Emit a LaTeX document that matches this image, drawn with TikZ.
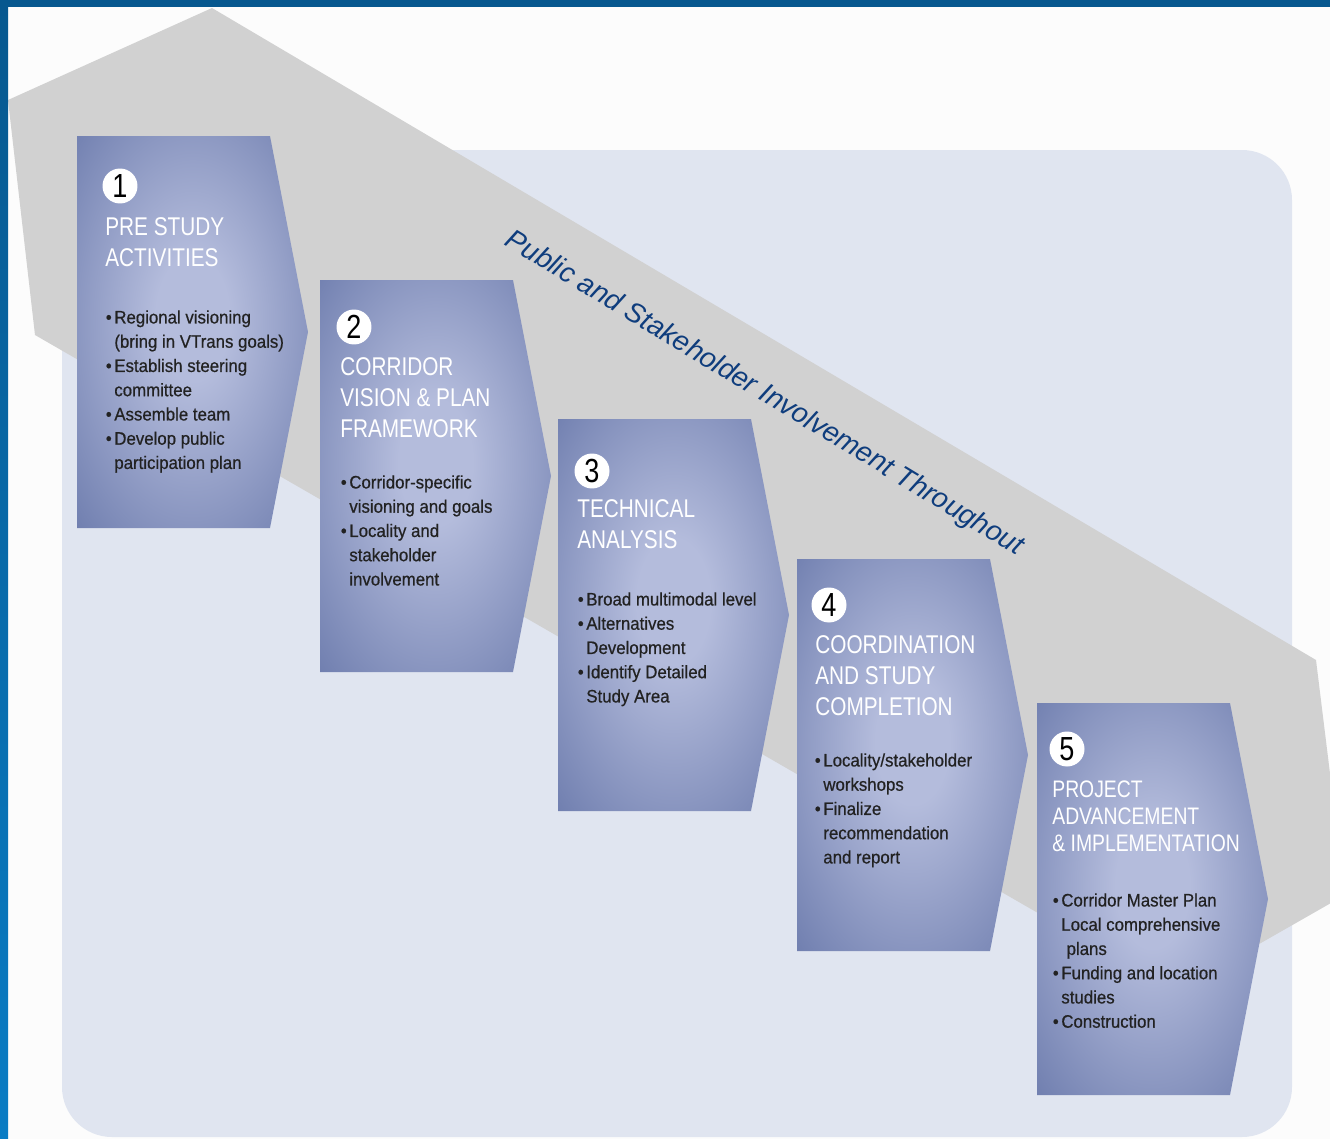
\documentclass[tikz,border=0pt]{standalone}
\usepackage{fontspec}
\setmainfont{Liberation Sans}[FakeStretch=0.93,FakeBold=0.6]
\newfontfamily\headfont{Liberation Sans}[FakeStretch=0.81]
\newfontfamily\bandfont{Liberation Sans}
\usepackage{xcolor}
\usepackage{tikz}
\usetikzlibrary{positioning,calc}
\definecolor{vtblue}{HTML}{07588F}
\definecolor{vtbluelt}{HTML}{0A7CC4}
\definecolor{bandgray}{HTML}{D1D1D1}
\definecolor{panelblue}{HTML}{E0E5F0}
\definecolor{boxedge}{RGB}{98,114,166}
\definecolor{boxmid}{RGB}{180,188,220}
\definecolor{titleblue}{HTML}{0F3D7D}
\definecolor{bullettext}{HTML}{222222}
\pgfdeclareradialshading{boxglow}{\pgfpoint{0bp}{2bp}}{%
  color(0bp)=(boxmid); color(8bp)=(boxmid); color(42bp)=(boxedge); color(60bp)=(boxedge)}
\newcommand{\stagept}{\llap{\textbullet\hspace{1.5pt}}}

\begin{document}
\begin{tikzpicture}[
    x=0.02cm,y=-0.02cm,
    stagetitle/.style = {anchor=north west, inner sep=0pt, align=left, text=white,
                         font=\headfont\fontsize{14.6}{17.6}\selectfont},
    stagelist/.style  = {anchor=north west, inner sep=0pt, align=left, text=bullettext,
                         font=\fontsize{10.3}{13.8}\selectfont},
    stagenum/.style   = {circle, fill=white, inner sep=0pt, minimum size=0.7cm,
                         font=\headfont\fontsize{19}{19}\selectfont},
    bandlabel/.style  = {text=titleblue, inner sep=0pt,
                         font=\bandfont\itshape\fontsize{16}{16}\selectfont},
  ]

  \tikzset{stagebox/.pic={
      \path[shade,shading=boxglow] (0,0) -- (193,0) -- (231,196) -- (193,392)
           -- (0,392) -- cycle;}}

  \useasboundingbox (0,0) rectangle (1330,1139);
  \fill[white!99!black] (0,0) rectangle (1330,1139);

  % background panel and involvement band
  \fill[panelblue,rounded corners=1cm] (62,150) rectangle (1292,1137);
  \fill[bandgray] (8,100) -- (212,8) -- (1316,660) -- (1345,895) -- (1175,992)
       -- (35,335) -- cycle;

  \fill[vtblue] (0,0) rectangle (1330,7);
  \shade[top color=vtblue,bottom color=vtbluelt] (0,0) rectangle (8,1139);

  \node[bandlabel,rotate=-31.2] (involve) at (764,394)
       {Public and Stakeholder Involvement Throughout};

  % the five stages
  \foreach \bx/\by in {77/136, 320/280, 558/419, 797/559, 1037/703}
    \pic at (\bx,\by) {stagebox};

  \node[stagenum] (num1) at (120,186) {1};
  \node[stagetitle] (head1) at (105,217) {PRE STUDY\\ACTIVITIES};
  \node[stagelist] (list1) at (114,310)
       {\stagept Regional visioning\\(bring in VTrans goals)\\
        \stagept Establish steering\\committee\\
        \stagept Assemble team\\
        \stagept Develop public\\participation plan};

  \node[stagenum] (num2) at (354,327) {2};
  \node[stagetitle] (head2) at (340,357) {CORRIDOR\\VISION \& PLAN\\FRAMEWORK};
  \node[stagelist] (list2) at (349,475)
       {\stagept Corridor-specific\\visioning and goals\\
        \stagept Locality and\\stakeholder\\involvement};

  \node[stagenum] (num3) at (592,471) {3};
  \node[stagetitle] (head3) at (577,499) {TECHNICAL\\ANALYSIS};
  \node[stagelist] (list3) at (586,592)
       {\stagept Broad multimodal level\\
        \stagept Alternatives\\Development\\
        \stagept Identify Detailed\\Study Area};

  \node[stagenum] (num4) at (829,605) {4};
  \node[stagetitle] (head4) at (815,635) {COORDINATION\\AND STUDY\\COMPLETION};
  \node[stagelist] (list4) at (823,753)
       {\stagept Locality/stakeholder\\workshops\\
        \stagept Finalize\\recommendation\\and report};

  \node[stagenum] (num5) at (1067,749) {5};
  \node[stagetitle,font=\headfont\fontsize{13.6}{15.4}\selectfont] (head5) at (1052,780)
       {PROJECT\\ADVANCEMENT\\\& IMPLEMENTATION};
  \node[stagelist] (list5) at (1061,893)
       {\stagept Corridor Master Plan\\Local comprehensive\\\hspace{3pt}plans\\
        \stagept Funding and location\\studies\\
        \stagept Construction};

\end{tikzpicture}
\end{document}
